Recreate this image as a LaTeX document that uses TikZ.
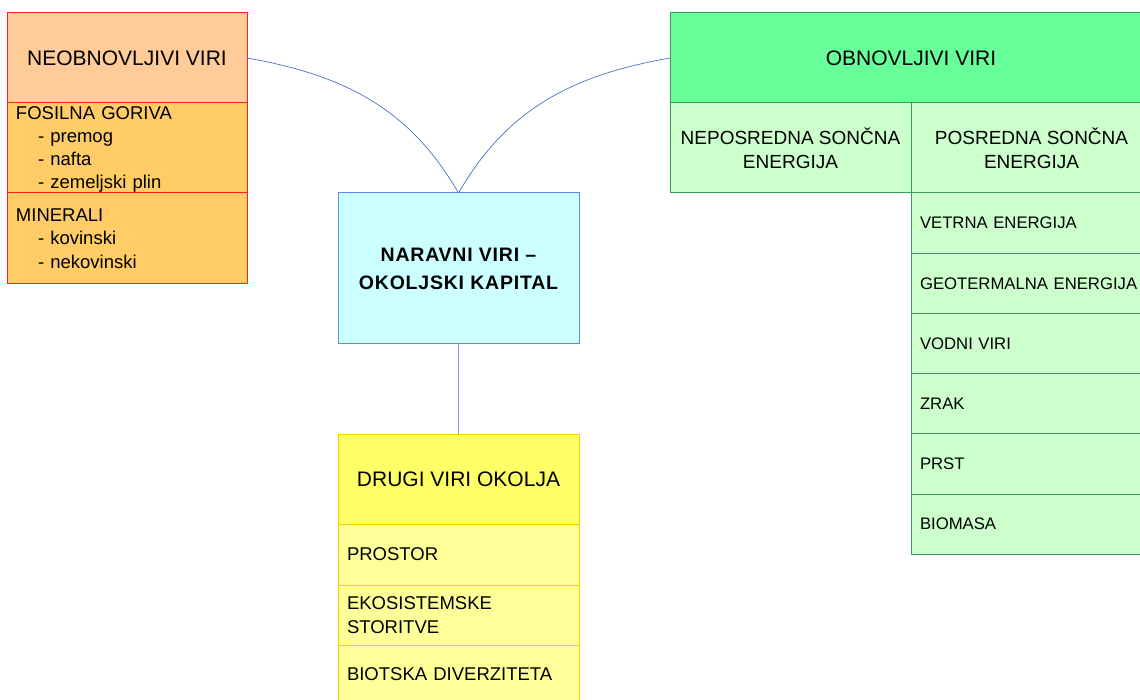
\documentclass[tikz,border=0pt]{standalone}
\usepackage{fontspec}
\setmainfont{Liberation Sans}
\newfontfamily\spacedfont[LetterSpace=4]{Liberation Sans}
\usepackage{xcolor}
\definecolor{peach}{HTML}{FFCC99}
\definecolor{orangefill}{HTML}{FFCC66}
\definecolor{redline}{HTML}{FF2020}
\definecolor{cyanfill}{HTML}{CCFFFF}
\definecolor{blueline}{HTML}{5B8BF0}
\definecolor{yellowhead}{HTML}{FFFF66}
\definecolor{yellowfill}{HTML}{FFFF99}
\definecolor{goldline}{HTML}{FFCC00}
\definecolor{greenhead}{HTML}{66FF99}
\definecolor{greenfill}{HTML}{CCFFCC}
\definecolor{greenline}{HTML}{3A9A5E}
\definecolor{linkblue}{HTML}{4A72C4}

\begin{document}
\begin{tikzpicture}[x=1pt, y=-1pt,
    cell/.style={draw, line width=1pt, rectangle, anchor=north west, inner sep=0pt, inner xsep=9pt, outer sep=0pt},
    head/.style={cell, align=center, font=\fontsize{21}{25}\selectfont},
    item/.style={cell, align=left, font=\fontsize{18.5}{23.5}\selectfont},
    small/.style={item, font=\fontsize{16.7}{21}\selectfont, text width=223pt, minimum height=60.2pt},
    link/.style={draw=linkblue, line width=0.7pt}
]
    \clip (0,0) rectangle (1140,700);

    % Non-renewable
    \node[head, fill=peach, draw=redline, minimum width=240pt, minimum height=90pt] (neobn) at (7,13) {NEOBNOVLJIVI VIRI};
    \node[item, fill=orangefill, draw=redline, text width=222pt, minimum height=90pt, font=\fontsize{18.5}{23}\selectfont] (fosil) at (neobn.south west)
        {\rule{0pt}{16.5pt}FOSILNA GORIVA\\\hspace*{22pt}- premog\\\hspace*{22pt}- nafta\\\hspace*{22pt}- zemeljski plin};
    \node[item, fill=orangefill, draw=redline, text width=222pt, minimum height=91pt] (miner) at (fosil.south west)
        {MINERALI\\\hspace*{22pt}- kovinski\\\hspace*{22pt}- nekovinski};

    % Natural capital
    \node[cell, fill=cyanfill, draw=blueline, minimum width=241pt, minimum height=151pt, align=center,
        font=\spacedfont\bfseries\fontsize{19.5}{28}\selectfont] (narav) at (338,193) {NARAVNI VIRI –\\OKOLJSKI KAPITAL};

    % Other resources
    \node[head, fill=yellowhead, draw=goldline, minimum width=241pt, minimum height=90pt] (drugi) at (338,434) {DRUGI VIRI OKOLJA};
    \node[item, fill=yellowfill, draw=goldline, text width=223pt, minimum height=61pt] (prost) at (drugi.south west) {PROSTOR};
    \node[item, fill=yellowfill, draw=goldline, text width=223pt, minimum height=60pt] (ekosi) at (prost.south west) {EKOSISTEMSKE\\STORITVE};
    \node[item, fill=yellowfill, draw=goldline, text width=223pt, minimum height=58pt] (biots) at (ekosi.south west) {BIOTSKA DIVERZITETA};

    % Renewable
    \node[head, fill=greenhead, draw=greenline, minimum width=482pt, minimum height=90pt] (obnov) at (670,13) {OBNOVLJIVI VIRI};
    \node[head, fill=greenfill, draw=greenline, minimum width=241pt, minimum height=90pt, font=\fontsize{19}{24}\selectfont] (nepos) at (obnov.south west) {NEPOSREDNA SONČNA\\ENERGIJA};
    \node[head, fill=greenfill, draw=greenline, minimum width=241pt, minimum height=90pt, font=\fontsize{19}{24}\selectfont] (posre) at (nepos.north east) {POSREDNA SONČNA\\ENERGIJA};
    \node[small, fill=greenfill, draw=greenline] (vetrn) at (posre.south west) {VETRNA ENERGIJA};
    \node[small, fill=greenfill, draw=greenline] (geote) at (vetrn.south west) {GEOTERMALNA ENERGIJA};
    \node[small, fill=greenfill, draw=greenline] (vodni) at (geote.south west) {VODNI VIRI};
    \node[small, fill=greenfill, draw=greenline] (zrak) at (vodni.south west) {ZRAK};
    \node[small, fill=greenfill, draw=greenline] (prst) at (zrak.south west) {PRST};
    \node[small, fill=greenfill, draw=greenline] (bioma) at (prst.south west) {BIOMASA};

    % Links
    \draw[link] (neobn.east) to[out=-10, in=120] (narav.north);
    \draw[link] (obnov.west) to[out=190, in=60] (narav.north);
    \draw[link, draw=linkblue!70] (narav.south) -- (drugi.north);

\end{tikzpicture}
\end{document}
